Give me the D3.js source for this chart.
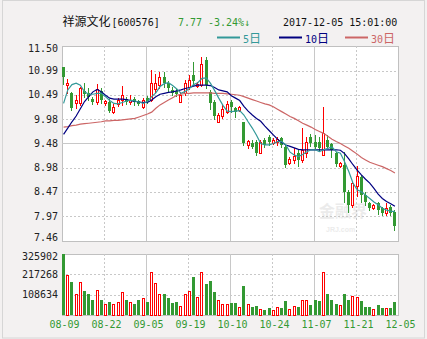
<!DOCTYPE html>
<html><head><meta charset="utf-8">
<script src="https://cdn.jsdelivr.net/npm/d3@7"></script>
<style>body{margin:0;background:#F3F1F1}svg{display:block}</style>
</head><body><svg id="c" width="427" height="339"></svg>
<script>
// ---- data ----
const dateLabels = ["08-09","08-22","09-05","09-19","10-10","10-24","11-07","11-21","12-05"];
const priceTicks = [11.50,10.99,10.49,9.98,9.48,8.98,8.47,7.97,7.46];
const volTicks = [325902,217268,108634];
const opens = [11.07,10.69,10.53,10.31,10.31,10.57,10.53,10.40,10.34,10.57,
 10.32,10.35,10.13,10.30,10.38,10.40,10.34,10.40,10.36,10.24,
 10.42,10.38,10.61,10.69,10.86,10.73,10.59,10.57,10.35,10.52,
 10.65,10.89,10.67,10.69,11.20,10.55,10.34,9.93,10.06,10.13,
 10.33,10.22,10.17,9.93,9.45,9.48,9.52,9.28,9.55,9.62,
 9.48,9.51,9.59,9.41,9.07,9.14,9.28,9.14,9.28,9.62,
 9.52,9.52,9.24,9.55,9.46,9.28,9.02,9.04,8.48,8.21,
 8.60,8.79,8.41,8.24,8.15,8.24,8.14,8.03,8.17,8.07];
const closes = [10.85,10.74,10.21,10.38,10.64,10.51,10.44,10.34,10.61,10.38,
 10.36,10.15,10.24,10.38,10.49,10.34,10.39,10.34,10.30,10.38,
 10.33,10.73,10.73,10.86,10.73,10.62,10.52,10.51,10.49,10.73,
 10.79,10.77,10.72,11.13,10.69,10.31,10.06,10.08,10.20,10.29,
 10.24,10.13,10.24,9.48,9.53,9.41,9.28,9.52,9.45,9.52,
 9.55,9.57,9.45,9.04,9.16,9.23,9.14,9.35,9.52,9.48,
 9.41,9.38,9.69,9.41,9.35,9.05,9.07,8.48,8.21,8.66,
 8.81,8.41,8.27,8.14,8.21,8.10,8.03,8.14,8.03,7.77];
const highs = [11.07,10.81,10.55,10.49,10.66,10.73,10.63,10.44,10.71,10.63,
 10.38,10.40,10.30,10.42,10.67,10.44,10.49,10.44,10.38,10.42,
 10.46,11.00,10.92,10.96,10.96,10.77,10.65,10.61,10.55,10.80,
 10.90,11.17,10.75,11.27,11.27,10.58,10.38,10.11,10.28,10.36,
 10.38,10.24,10.26,9.93,9.55,9.55,9.55,9.55,9.59,9.66,
 9.59,9.62,9.62,9.45,9.19,9.38,9.35,9.80,9.62,9.68,
 9.66,9.62,10.24,9.66,9.49,9.30,9.10,9.31,8.52,8.69,
 9.01,8.83,8.48,8.27,8.23,8.27,8.16,8.24,8.21,8.10];
const lows = [10.71,10.52,10.17,10.21,10.28,10.44,10.38,10.30,10.30,10.32,
 10.28,10.13,10.11,10.26,10.28,10.30,10.30,10.28,10.27,10.22,
 10.32,10.36,10.55,10.63,10.65,10.55,10.49,10.46,10.34,10.49,
 10.61,10.69,10.65,10.67,10.62,10.20,9.99,9.92,10.01,10.11,
 10.13,10.03,10.15,9.45,9.38,9.39,9.24,9.28,9.41,9.45,
 9.46,9.45,9.41,9.00,9.05,9.07,9.01,9.10,9.21,9.43,
 9.38,9.35,9.24,9.38,9.21,9.01,9.00,8.27,8.07,8.17,
 8.39,8.27,8.21,8.10,8.13,8.02,8.00,8.00,8.00,7.69];
const volumes = [325902,213000,175000,110000,174000,127000,111000,79000,131000,79000,
 57000,68000,57000,68000,122000,79000,68000,57000,79000,90000,
 68000,229000,170000,111000,111000,90000,63000,68000,47000,111000,
 127000,202000,95000,229000,165000,181000,122000,79000,57000,57000,
 63000,63000,41000,154000,57000,41000,47000,31000,25000,36000,
 25000,41000,36000,74000,31000,47000,41000,79000,79000,52000,
 79000,74000,229000,111000,79000,57000,52000,111000,79000,100000,
 95000,74000,41000,41000,31000,52000,36000,36000,36000,68000];
const ma5 = [10.31,10.59,10.70,10.73,10.69,10.55,10.50,10.50,10.52,10.52,
 10.45,10.37,10.31,10.30,10.33,10.36,10.38,10.36,10.34,10.31,
 10.35,10.45,10.53,10.66,10.72,10.74,10.68,10.61,10.52,10.56,
 10.62,10.70,10.74,10.83,10.84,10.73,10.58,10.42,10.27,10.15,
 10.14,10.15,10.16,10.07,9.93,9.80,9.65,9.48,9.45,9.45,
 9.48,9.52,9.52,9.45,9.30,9.24,9.21,9.25,9.31,9.35,
 9.35,9.31,9.35,9.38,9.41,9.31,9.28,9.10,8.90,8.66,
 8.52,8.48,8.41,8.34,8.27,8.21,8.14,8.10,8.08,8.07];
const ma10 = [9.67,9.80,9.93,10.05,10.20,10.35,10.45,10.55,10.60,10.55,
 10.48,10.42,10.40,10.40,10.40,10.39,10.37,10.35,10.34,10.33,
 10.33,10.38,10.45,10.50,10.52,10.54,10.55,10.57,10.59,10.62,
 10.64,10.67,10.69,10.69,10.69,10.68,10.64,10.59,10.57,10.55,
 10.47,10.42,10.37,10.25,10.15,10.07,10.00,9.94,9.84,9.75,
 9.66,9.57,9.50,9.45,9.42,9.39,9.36,9.35,9.35,9.35,
 9.35,9.35,9.35,9.35,9.35,9.35,9.34,9.27,9.16,9.04,
 8.93,8.83,8.74,8.66,8.55,8.43,8.34,8.28,8.23,8.18];
const ma30 = [9.82,9.83,9.85,9.86,9.88,9.89,9.90,9.91,9.92,9.93,
 9.95,9.95,9.96,9.96,9.97,9.98,9.99,10.00,10.03,10.06,
 10.09,10.13,10.21,10.28,10.33,10.38,10.43,10.48,10.50,10.52,
 10.52,10.53,10.53,10.53,10.53,10.53,10.52,10.52,10.52,10.51,
 10.50,10.49,10.48,10.45,10.42,10.39,10.36,10.33,10.30,10.28,
 10.24,10.19,10.14,10.09,10.04,10.00,9.95,9.90,9.86,9.82,
 9.77,9.73,9.69,9.63,9.57,9.52,9.48,9.43,9.38,9.32,
 9.26,9.19,9.14,9.09,9.06,9.03,9.00,8.96,8.92,8.87];

// ---- styles ----
const RED = "#FF0000", GREEN = "#339933", GRID = "#C8C8C8";
const C5 = "#339999", C10 = "#000080", C30 = "#CC6666";
const MONO = "'DejaVu Sans Mono','Liberation Mono',monospace";
const CJK = "'Noto Sans CJK SC',sans-serif";

const W = 427, H = 339;
const L = 62, R = 398, PT = 46, PB = 241, VT = 254, VB = 315;
const n = closes.length;
const svg = d3.select("#c");

svg.append("rect").attr("width", W).attr("height", H).attr("fill", "#F3F1F1");
svg.append("rect").attr("x", 2.5).attr("y", 0.5).attr("width", 422).attr("height", 337.5)
  .attr("fill", "none").attr("stroke", "#D6D6D6");

const x = d3.scaleBand().domain(d3.range(n)).range([62, 396.5]).paddingInner(0.25).paddingOuter(0);
const y = d3.scaleLinear().domain([7.46, 11.50]).range([PB, PT]);
const yv = d3.scaleLinear().domain([0, 325902]).range([VB, VT]);
const xg = d3.scaleLinear().domain([0, 8]).range([L, R]);

// panels
[[PT, PB], [VT, VB]].forEach(([t, b]) => {
  svg.append("rect").attr("x", L + 0.5).attr("y", t + 0.5).attr("width", R - L).attr("height", b - t)
    .attr("fill", "#FFFFFF").attr("stroke", "#C0C0C0");
});

const grid = svg.append("g").attr("shape-rendering", "crispEdges").attr("stroke", GRID);
priceTicks.slice(1, -1).forEach(t => {
  const yy = Math.round(y(t)) + 0.5;
  grid.append("line").attr("x1", L).attr("x2", R).attr("y1", yy).attr("y2", yy)
    .attr("stroke-dasharray", t === 9.48 ? null : "2,2");
});
volTicks.slice(1).forEach(t => {
  const yy = Math.round(yv(t)) + 0.5;
  grid.append("line").attr("x1", L).attr("x2", R).attr("y1", yy).attr("y2", yy).attr("stroke-dasharray", "2,2");
});
d3.range(1, 8).forEach(i => {
  const xx = Math.round(xg(i)) + 0.5;
  [[PT, PB], [VT, VB]].forEach(([t, b]) => {
    grid.append("line").attr("x1", xx).attr("x2", xx).attr("y1", t).attr("y2", b)
      .attr("stroke-dasharray", i % 2 ? "2,2" : null);
  });
});

// watermark
const wm = svg.append("g").attr("opacity", 0.35);
wm.append("text").attr("x", 319).attr("y", 217).attr("font-family", CJK).attr("font-weight", 700)
  .attr("font-size", 16).attr("fill", "#C8C8C8").text("金融界");
wm.append("text").attr("x", 326).attr("y", 232).attr("font-family", "'Liberation Sans',sans-serif")
  .attr("font-weight", 700).attr("font-size", 7).attr("fill", "#C8C8C8").text("JRJ.com");

// candles
const bx = i => Math.round(x(i));
const up = i => closes[i] > opens[i];
const cg = svg.append("g").attr("shape-rendering", "crispEdges");
const idx = d3.range(n);
cg.selectAll("line.wick").data(idx).join("line")
  .attr("x1", i => bx(i) + 1.5).attr("x2", i => bx(i) + 1.5)
  .attr("y1", i => Math.round(y(highs[i]))).attr("y2", i => Math.round(y(lows[i])) + 1)
  .attr("stroke", i => up(i) ? RED : GREEN);
cg.selectAll("rect.body").data(idx).join("rect")
  .attr("x", i => up(i) ? bx(i) + 0.5 : bx(i))
  .attr("y", i => { const t = Math.round(y(Math.max(opens[i], closes[i]))); return up(i) ? t + 0.5 : t; })
  .attr("width", i => up(i) ? 2 : 3)
  .attr("height", i => Math.max(1, Math.round(y(Math.min(opens[i], closes[i]))) - Math.round(y(Math.max(opens[i], closes[i])))))
  .attr("fill", i => up(i) ? "#FFFFFF" : GREEN)
  .attr("stroke", i => up(i) ? RED : "none");

// moving averages
const line = d3.line().x((d, i) => x(i) + x.bandwidth() / 2).y(d => y(d));
[[ma30, C30], [ma10, C10], [ma5, C5]].forEach(([arr, c]) => {
  svg.append("path").datum(arr).attr("d", line).attr("fill", "none").attr("stroke", c).attr("stroke-width", 1.2);
});

// volume bars
const vg = svg.append("g").attr("shape-rendering", "crispEdges");
vg.selectAll("rect").data(idx).join("rect")
  .attr("x", i => up(i) ? bx(i) + 0.5 : bx(i))
  .attr("y", i => { const t = Math.round(yv(volumes[i])); return up(i) ? t + 0.5 : t; })
  .attr("width", i => up(i) ? 2 : 3)
  .attr("height", i => { const h = VB - Math.round(yv(volumes[i])); return up(i) ? h - 0.5 : h; })
  .attr("fill", i => up(i) ? "#FFFFFF" : GREEN)
  .attr("stroke", i => up(i) ? RED : "none");

// axes
function styleAxis(g, color) {
  g.select(".domain").remove();
  g.selectAll(".tick line").remove();
  g.selectAll("text").attr("font-family", MONO).attr("font-size", 10).attr("fill", color);
}
const ay = svg.append("g").attr("transform", `translate(${L},0)`)
  .call(d3.axisLeft(y).tickValues(priceTicks).tickFormat(d3.format(".2f")).tickSize(0).tickPadding(4));
styleAxis(ay, "#222");
ay.selectAll(".tick").attr("transform", d => `translate(0,${Math.min(Math.max(y(d), 49), 238)})`);

const av = svg.append("g").attr("transform", `translate(${L},0)`)
  .call(d3.axisLeft(yv).tickValues(volTicks).tickFormat(d3.format("d")).tickSize(0).tickPadding(4));
styleAxis(av, "#222");
av.selectAll(".tick").attr("transform", d => `translate(0,${Math.max(yv(d), 257)})`);

const ax = svg.append("g").attr("transform", `translate(0,${VB})`)
  .call(d3.axisBottom(xg).tickValues(d3.range(9)).tickFormat(i => dateLabels[i]).tickSize(0).tickPadding(6));
styleAxis(ax, GREEN);
ax.selectAll("text").attr("dx", 2);

// header
const t1 = svg.append("text").attr("x", 62.5).attr("y", 26).attr("fill", "#111");
t1.append("tspan").attr("font-family", CJK).attr("font-size", 12).text("祥源文化");
t1.append("tspan").attr("x", 105.5).attr("font-family", MONO).attr("font-size", 10).text(" [600576]");
svg.append("text").attr("x", 178).attr("y", 25.5).attr("font-family", MONO).attr("font-size", 10)
  .attr("fill", GREEN).text("7.77");
svg.append("text").attr("x", 208).attr("y", 25.5).attr("font-family", MONO).attr("font-size", 10)
  .attr("fill", GREEN).text("-3.24%↓");
svg.append("text").attr("x", 283).attr("y", 25.5).attr("font-family", MONO).attr("font-size", 10)
  .attr("fill", "#111").text("2017-12-05 15:01:00");

// legend
const legend = [["5日", C5, 217], ["10日", C10, 279], ["30日", C30, 345]];
legend.forEach(([lab, c, lx]) => {
  svg.append("line").attr("x1", lx).attr("x2", lx + 23).attr("y1", 37.5).attr("y2", 37.5)
    .attr("stroke", c).attr("stroke-width", 2);
  const t = svg.append("text").attr("x", lx + 26).attr("y", 42.5).attr("fill", c);
  t.append("tspan").attr("font-family", MONO).attr("font-size", 10).text(lab.slice(0, -1));
  t.append("tspan").attr("font-family", CJK).attr("font-size", 12).text("日");
});
</script>
</body></html>
